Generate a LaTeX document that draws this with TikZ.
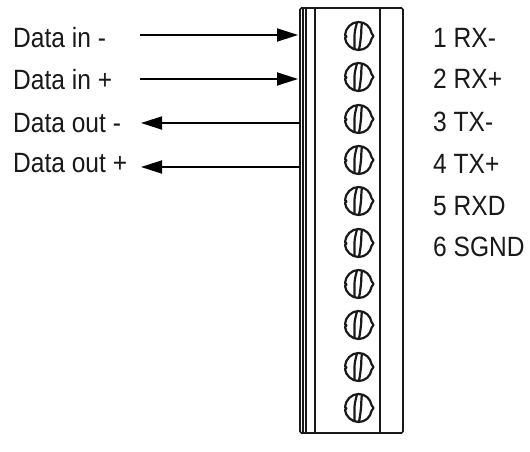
\documentclass[tikz,border=0pt]{standalone}
\usepackage{fontspec}
\setmainfont[FakeStretch=0.88]{Liberation Sans}
\usetikzlibrary{arrows.meta}
\tikzset{
  lab/.style={anchor=base west,inner sep=0pt,font=\fontsize{28}{30}\selectfont,text=black!90},
  wire/.style={line width=1.8bp,-{Triangle[length=21bp,width=13bp]},black},
  blockline/.style={line width=1.7bp,black!90},
  screwline/.style={line width=2.2bp,black!90,line join=round},
}
\newcommand{\screw}[2]{%
  \begin{scope}[shift={(358.5,#2)}]
  \coordinate (s#1) at (0,0);
  \draw[screwline] (-13.5,-1)
    .. controls (-13,-8) and (-7,-14) .. (0,-14)
    .. controls (7,-14) and (12,-9) .. (13,-3)
    -- (15,0) -- (13,3)
    .. controls (12,9) and (7,14) .. (0,14)
    .. controls (-7,14) and (-13,8) .. (-13.5,2)
    -- (-12,0.5) -- cycle;
  \draw[screwline] (-1.5,-13.5) .. controls (-3,-8) and (-4,-4) .. (-4,0)
     .. controls (-4,4) and (-4,9) .. (-4,13.5);
  \draw[screwline] (3.5,-13.5) .. controls (2.5,-8) and (3,-4) .. (2.5,0)
     .. controls (2,4) and (1.5,9) .. (0.5,13.5);
  \end{scope}
}
\begin{document}
\begin{tikzpicture}[x=1bp,y=-1bp]
\useasboundingbox (0,0) rectangle (530,452);
\fill[white] (0,0) rectangle (530,452);
% block
\draw[blockline,rounded corners=1.5bp] (300,8) rectangle (403,433);
\foreach \x in {303,306,315,380}{\draw[blockline] (\x,8) -- (\x,433);}
\foreach \i/\y in {1/36,2/77,3/119,4/160,5/201,6/243,7/284,8/325,9/367,10/408}{\screw{\i}{\y}}
% labels
\node[lab] (l1) at (13,48) {Data in -};
\node[lab] (l2) at (13,90) {Data in +};
\node[lab] (l3) at (13,133) {Data out -};
\node[lab] (l4) at (13,173) {Data out +};
\node[lab] (r1) at (433,48) {1 RX-};
\node[lab] (r2) at (433,89) {2 RX+};
\node[lab] (r3) at (433,132) {3 TX-};
\node[lab] (r4) at (433,174) {4 TX+};
\node[lab] (r5) at (433,216) {5 RXD};
\node[lab] (r6) at (433,257) {6 SGND};
% connectors
\coordinate (a1) at (140,35); \coordinate (b1) at (298,35);
\coordinate (a2) at (140,79); \coordinate (b2) at (298,79);
\coordinate (a3) at (141,123); \coordinate (b3) at (300,123);
\coordinate (a4) at (141,167); \coordinate (b4) at (300,167);
\draw[wire] (a1) -- (b1);
\draw[wire] (a2) -- (b2);
\draw[wire] (b3) -- (a3);
\draw[wire] (b4) -- (a4);
\end{tikzpicture}
\end{document}
